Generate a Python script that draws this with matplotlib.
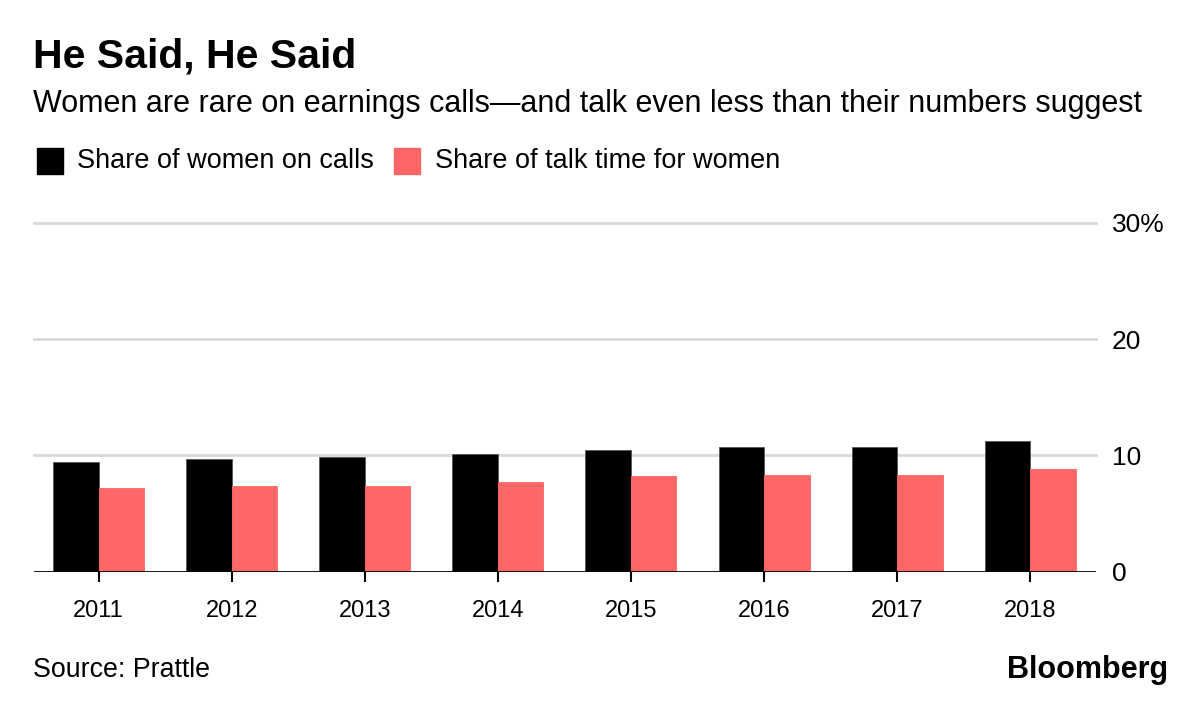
import matplotlib
matplotlib.use("Agg")
import matplotlib.pyplot as plt
import numpy as np

plt.rcParams['font.family'] = ['Liberation Sans', 'DejaVu Sans']

# data (percent)
years = ["2011", "2012", "2013", "2014", "2015", "2016", "2017", "2018"]
women_on_calls = [9.4, 9.7, 9.9, 10.1, 10.5, 10.7, 10.7, 11.2]
talk_time = [7.2, 7.4, 7.4, 7.7, 8.2, 8.3, 8.3, 8.8]
y_ticks = [0, 10, 20, 30]
y_tick_labels = ["0", "10", "20", "30%"]

black = "#000000"
red = "#ff6666"

fig = plt.figure(figsize=(12, 7.01), dpi=100)
ax = fig.add_axes([34 / 1200, 1 - 571.7 / 701, (1096 - 34) / 1200, (571.7 - 222.7) / 701])

x = np.arange(len(years))
w = 0.342
ax.bar(x - w / 2, women_on_calls, w, color=black, edgecolor="#555555", linewidth=0.6, zorder=3)
ax.bar(x + w / 2, talk_time, w, color=red, edgecolor=red, linewidth=0.6, zorder=3)

ax.set_xlim(-0.485, 7.494)
ax.set_ylim(0, 30)

# grid
for t in y_ticks[1:]:
    ax.axhline(t, color="#d9d9d9", lw=2, zorder=1, clip_on=False)
ax.axhline(0, color="black", lw=2, zorder=4)

for s in ax.spines.values():
    s.set_visible(False)

ax.set_xticks(x)
ax.set_xticklabels(years, fontsize=17)
ax.tick_params(axis="x", length=7.5, width=1.5, pad=13, color="black")

ax.yaxis.tick_right()
ax.set_yticks(y_ticks)
ax.set_yticklabels(y_tick_labels, fontsize=19)
ax.tick_params(axis="y", length=0, pad=11.5)
for lab in ax.get_yticklabels():
    lab.set_horizontalalignment("left")

# titles
fig.text(33 / 1200, 1 - 57 / 701, "He Said, He Said", fontsize=29.5, fontweight="bold",
         va="center", ha="left")
fig.text(33 / 1200, 1 - 104 / 701,
         "Women are rare on earnings calls\u2014and talk even less than their numbers suggest",
         fontsize=22, va="center", ha="left")

# legend
fig.patches.append(plt.Rectangle((37 / 1200, 1 - 174 / 701), 26 / 1200, 26 / 701,
                                 transform=fig.transFigure, color=black, figure=fig))
fig.text(77 / 1200, 1 - 161 / 701, "Share of women on calls", fontsize=19.5, va="center")
fig.patches.append(plt.Rectangle((394 / 1200, 1 - 174 / 701), 26 / 1200, 26 / 701,
                                 transform=fig.transFigure, color=red, figure=fig))
fig.text(435 / 1200, 1 - 161 / 701, "Share of talk time for women", fontsize=19.5, va="center")

# footer
fig.text(33 / 1200, 1 - 670 / 701, "Source: Prattle", fontsize=19.3, va="center")
fig.text(1168 / 1200, 1 - 670 / 701, "Bloomberg", fontsize=22, fontweight="bold",
         va="center", ha="right")

fig.savefig("out.png", dpi=100)
